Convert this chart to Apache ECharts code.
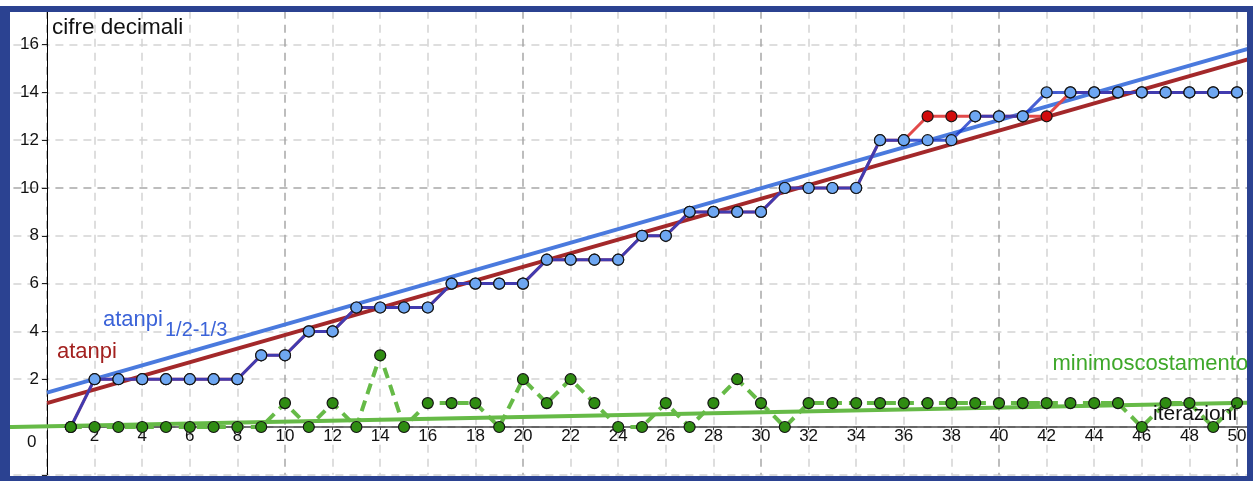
<!DOCTYPE html>
<html>
<head>
<meta charset="utf-8">
<script src="https://cdn.jsdelivr.net/npm/echarts@6/dist/echarts.min.js"></script>
<style>
  html, body { margin: 0; padding: 0; background: #fff; width: 1253px; height: 481px; overflow: hidden; }
  #frame {
    position: absolute; left: 0; top: 6px;
    width: 1237px; height: 464px;
    border-style: solid; border-color: #2b4291;
    border-width: 6px 6px 5px 10px;
    overflow: hidden; background: #fff;
  }
  #chart { position: absolute; left: -110px; top: -112px; width: 1453px; height: 681px; }
</style>
</head>
<body>
<div id="frame"><div id="chart"></div></div>
<script>
// iterations on the horizontal axis
const iterazioni = [1,2,3,4,5,6,7,8,9,10,11,12,13,14,15,16,17,18,19,20,21,22,23,24,25,
                    26,27,28,29,30,31,32,33,34,35,36,37,38,39,40,41,42,43,44,45,46,47,48,49,50];
// correct decimal digits reached by each method
const atanpi = [0,2,2,2,2,2,2,2,3,3,4,4,5,5,5,5,6,6,6,6,7,7,7,7,8,
                8,9,9,9,9,10,10,10,10,12,12,13,13,13,13,13,13,14,14,14,14,14,14,14,14];
const atanpiHalfThird = [0,2,2,2,2,2,2,2,3,3,4,4,5,5,5,5,6,6,6,6,7,7,7,7,8,
                         8,9,9,9,9,10,10,10,10,12,12,12,12,13,13,13,14,14,14,14,14,14,14,14,14];
const minimoScostamento = [0,0,0,0,0,0,0,0,0,1,0,1,0,3,0,1,1,1,0,2,1,2,1,0,0,
                           1,0,1,2,1,0,1,1,1,1,1,1,1,1,1,1,1,1,1,1,0,1,1,0,1];
// fitted lines: [slope, intercept]
const trendAtanpi = [0.285, 1.00];
const trendAtanpiHalfThird = [0.285, 1.44];
const trendScostamento = [0.0195, 0.03];
// axis extents and tick step
const xRange = [-2, 52];
const yRange = [-2, 18];
const tickStep = 2;

const FONT = "'Liberation Sans', Arial, sans-serif";
const pts = ys => iterazioni.map((x, i) => [x, ys[i]]);
const fit = (c, x0, x1) => [[x0, c[0] * x0 + c[1]], [x1, c[0] * x1 + c[1]]];

// plot box inside the chart canvas
const G = { left: 99.4, top: 96.8, width: 1285.2, height: 478.0 };
// distance of the zero lines from the bottom / left edges of the plot box
const xZeroShift = G.height * (0 - yRange[0]) / (yRange[1] - yRange[0]);
const yZeroShift = G.width * (0 - xRange[0]) / (xRange[1] - xRange[0]);

const gridColors = ['#d3d3d3', '#a8a8a8', '#d3d3d3', '#d3d3d3', '#d3d3d3'];

const chart = echarts.init(document.getElementById('chart'), null, { renderer: 'canvas' });

const dot = (name, ys, fill, z) => ({
  name, type: 'scatter', data: pts(ys), z,
  symbol: 'circle', symbolSize: 11, silent: true,
  itemStyle: { color: fill, borderColor: '#151515', borderWidth: 1.2, opacity: 1 }
});
const trendLine = (name, data, color, z) => ({
  name, type: 'line', data, z, symbol: 'none', silent: true,
  lineStyle: { color, width: 4 }
});

chart.setOption({
  animation: false,
  grid: G,
  xAxis: {
    type: 'value', min: xRange[0], max: xRange[1], interval: tickStep,
    position: 'bottom', offset: -xZeroShift,
    axisLine: { onZero: false, lineStyle: { color: '#4a4a4a', width: 1.5 } },
    axisTick: { show: true, length: 3, lineStyle: { color: '#4a4a4a' } },
    axisLabel: {
      show: true, margin: 1, fontSize: 17, fontFamily: FONT, color: '#111',
      formatter: v => (v <= 0 || v > 50) ? '' : String(v)
    },
    splitLine: { show: true, lineStyle: { color: gridColors, width: 1.5, type: [8, 6] } }
  },
  yAxis: {
    type: 'value', min: yRange[0], max: yRange[1], interval: tickStep,
    position: 'left', offset: -yZeroShift,
    axisLine: { onZero: false, lineStyle: { color: '#000', width: 1 } },
    axisTick: { show: true, length: 5, lineStyle: { color: '#222' } },
    axisLabel: {
      show: true, margin: 8, fontSize: 17, fontFamily: FONT, color: '#111',
      formatter: v => (v <= 0 || v > 16) ? '' : String(v)
    },
    splitLine: { show: true, lineStyle: { color: gridColors, width: 1.5, type: [8, 6] } }
  },
  series: [
    trendLine('fit atanpi', fit(trendAtanpi, 0, xRange[1]), '#a3282a', 2),
    trendLine('fit atanpi 1/2-1/3', fit(trendAtanpiHalfThird, 0, xRange[1]), '#4a7ade', 2),
    trendLine('fit minimoscostamento', fit(trendScostamento, xRange[0], xRange[1]), '#66ba47', 2),
    {
      name: 'atanpi', type: 'line', data: pts(atanpi), z: 3, symbol: 'none', silent: true,
      lineStyle: { color: '#e24a4a', width: 3 }
    },
    {
      name: 'atanpi 1/2-1/3', type: 'line', data: pts(atanpiHalfThird), z: 3, symbol: 'none', silent: true,
      lineStyle: { color: 'rgba(25,55,200,0.8)', width: 3 }
    },
    {
      name: 'minimoscostamento', type: 'line', data: pts(minimoScostamento), z: 3, symbol: 'none', silent: true,
      lineStyle: { color: '#66ba47', width: 4, type: [11, 7] }
    },
    dot('atanpi', atanpi, '#d20c0c', 4),
    dot('atanpi 1/2-1/3', atanpiHalfThird, '#6ea7f2', 5),
    dot('minimoscostamento', minimoScostamento, '#2f8c12', 6)
  ],
  graphic: [
    { type: 'text', x: 152, y: 127.5, z: 10, silent: true,
      style: { text: 'cifre decimali', fontSize: 22.5, fontFamily: FONT, fill: '#111', verticalAlign: 'middle' } },
    { type: 'text', x: 157, y: 451.5, z: 10, silent: true,
      style: { text: 'atanpi', fontSize: 22, fontFamily: FONT, fill: '#a3211f', verticalAlign: 'middle' } },
    { type: 'text', x: 203, y: 419.5, z: 10, silent: true,
      style: { text: 'atanpi', fontSize: 22, fontFamily: FONT, fill: '#3b63d8', verticalAlign: 'middle' } },
    { type: 'text', x: 265, y: 430.7, z: 10, silent: true,
      style: { text: '1/2-1/3', fontSize: 20, fontFamily: FONT, fill: '#3b63d8', verticalAlign: 'middle' } },
    { type: 'text', x: 1152.5, y: 464.4, z: 10, silent: true,
      style: { text: 'minimoscostamento', fontSize: 22, fontFamily: FONT, fill: '#3ea82a', verticalAlign: 'middle' } },
    { type: 'text', x: 1253, y: 514.2, z: 10, silent: true,
      style: { text: 'iterazioni', fontSize: 21, fontFamily: FONT, fill: '#111', verticalAlign: 'middle' } },
    { type: 'text', x: 131.7, y: 542.5, z: 10, silent: true,
      style: { text: '0', fontSize: 17, fontFamily: FONT, fill: '#111', align: 'center', verticalAlign: 'middle' } }
  ]
});
</script>
</body>
</html>
